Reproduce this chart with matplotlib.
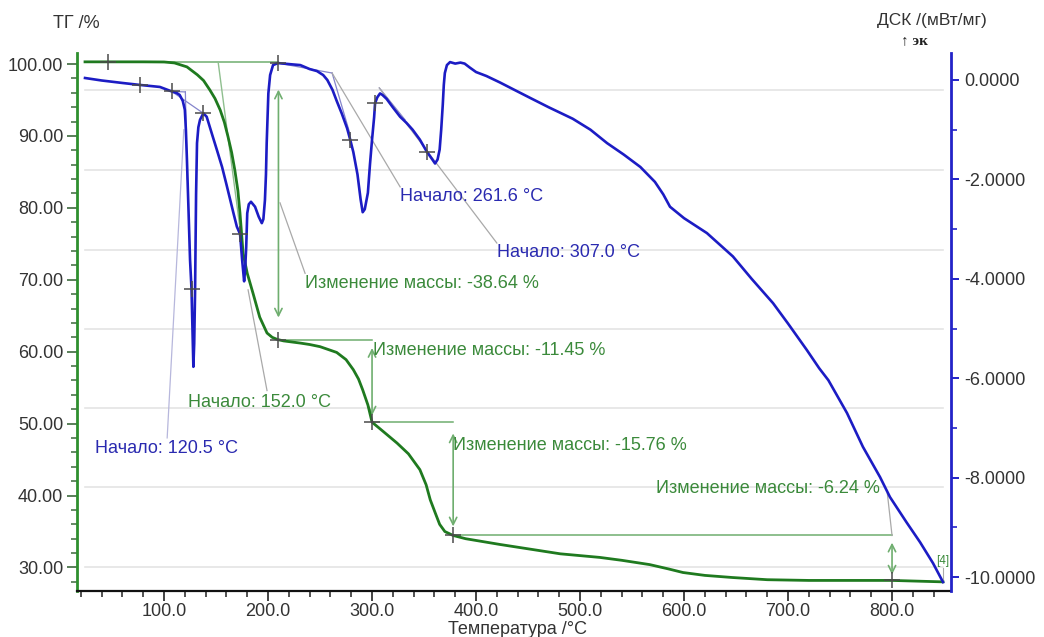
import matplotlib
matplotlib.use("Agg")
import matplotlib.pyplot as plt
from matplotlib.ticker import MultipleLocator, FormatStrFormatter

plt.rcParams['font.family'] = ['Liberation Sans', 'DejaVu Sans']

# ---- TG curve: temperature (°C) and residual mass (%) ----
tg_temp = [24, 46, 80, 100, 110, 122, 132, 138, 144, 149, 154, 158, 161.5, 165,
           168, 171, 173, 176, 180, 185.6, 192, 199, 204, 209, 215, 231, 240,
           250, 258, 266, 275, 282, 287, 291, 296, 300, 310, 324, 335, 346, 352,
           356, 361, 365, 370, 378, 390, 423, 481, 519, 540, 567, 585, 599, 620,
           647, 680, 720, 760, 800, 849]
tg_mass = [100.3, 100.3, 100.3, 100.28, 100.15, 99.6, 98.5, 97.7, 96.4, 95.2,
           93.6, 91.9, 89.9, 87.7, 85.3, 82.4, 79.3, 73.7, 70.9, 68.1, 64.8,
           62.6, 62.0, 61.7, 61.5, 61.2, 61.0, 60.7, 60.3, 59.9, 58.9, 57.5,
           56.2, 54.7, 52.6, 50.2, 49.0, 47.3, 45.8, 43.6, 41.5, 39.4, 37.5,
           36.0, 35.0, 34.45, 34.0, 33.2, 31.9, 31.4, 31.0, 30.4, 29.8, 29.3,
           28.9, 28.6, 28.3, 28.2, 28.2, 28.2, 28.0]

# ---- DSC curve: temperature (°C) and heat flow (mW/mg), exo up ----
dsc_temp = [24, 40, 60, 77, 96, 107.4, 112, 115, 118, 120, 121, 122, 123.5, 125,
            126.4, 128.2, 129, 129.8, 130.8, 131.7, 133, 134.6, 137.8, 141, 147,
            151, 155.8, 160, 163.5, 167, 170, 173.1, 175, 177, 178, 179, 180,
            181.5, 183.6, 187.5, 191, 194, 195.5, 197, 198, 198.7, 200.3, 202,
            204.8, 209.6, 220, 231, 240, 247, 253, 257, 262, 266, 271, 276, 279,
            282, 286, 289, 291, 293, 296, 298, 300, 302, 302.9, 305, 307.7, 310,
            314, 320, 327, 333, 339, 346, 352.6, 358, 360.6, 363, 365, 366.5,
            368, 369, 370, 372, 375, 380, 385, 389, 394, 400, 410, 423, 437, 452,
            470, 493, 510, 526, 542, 558, 572, 580, 586.5, 600, 622, 647, 665,
            685.6, 700, 718, 730, 738.8, 756.7, 772, 788.5, 798, 814, 827, 839.4,
            849]
dsc_signal = [0.04, -0.01, -0.06, -0.10, -0.14, -0.23, -0.26, -0.30, -0.42,
              -0.60, -1.00, -1.60, -2.60, -3.62, -4.20, -5.77, -5.30, -4.30,
              -2.30, -1.27, -0.95, -0.80, -0.67, -0.74, -1.15, -1.42, -1.75,
              -2.10, -2.40, -2.70, -2.95, -3.10, -3.60, -4.05, -3.80, -3.36,
              -2.68, -2.50, -2.45, -2.55, -2.75, -2.88, -2.80, -2.42, -1.90,
              -1.27, -0.27, 0.10, 0.30, 0.34, 0.32, 0.30, 0.22, 0.18, 0.10, 0.00,
              -0.20, -0.42, -0.68, -0.97, -1.20, -1.45, -1.90, -2.40, -2.66,
              -2.60, -2.27, -1.70, -1.20, -0.75, -0.47, -0.35, -0.27, -0.30,
              -0.38, -0.55, -0.74, -0.86, -1.00, -1.20, -1.44, -1.60, -1.68,
              -1.60, -1.40, -1.00, -0.50, -0.10, 0.14, 0.30, 0.36, 0.33, 0.35,
              0.33, 0.25, 0.16, 0.08, -0.05, -0.20, -0.36, -0.55, -0.78, -1.00,
              -1.27, -1.50, -1.75, -2.05, -2.30, -2.55, -2.78, -3.08, -3.55,
              -4.00, -4.49, -4.90, -5.43, -5.80, -6.04, -6.70, -7.38, -7.99,
              -8.39, -8.90, -9.30, -9.72, -10.10]

# ---- mass-loss steps ----
step_temp = [46, 210, 300, 378, 800]
step_start_mass = 100.30
step_change = [-38.64, -11.45, -15.76, -6.24]

# ---- onset evaluations ----
tg_onset = 152.0
dsc_onsets = [120.5, 261.6, 307.0]

# ---- DSC evaluation markers ----
dsc_mark_temp = [76.9, 107.4, 126.4, 137.8, 173.1, 209.6, 279, 302.9, 352.6]
dsc_mark_val = [-0.10, -0.23, -4.20, -0.67, -3.10, 0.34, -1.20, -0.47, -1.44]

# horizontal guide levels (TG scale)
guide_levels = [96.4, 85.3, 74.15, 63.15, 52.2, 41.2, 30.1]

TG_COLOR = '#1f7a1f'
DSC_COLOR = '#1c1cc4'
G_LINE = '#6fae6f'
G_TEXT = '#3b8a3b'
B_TEXT = '#2a2ab0'
B_LINE = '#8585cc'
GRAY = '#a9a9a9'
MARK = '#4a4a4a'
FS = 13

fig = plt.figure(figsize=(10.44, 6.37), dpi=100)
ax = fig.add_axes([77 / 1044, 46 / 637, 874 / 1044, 538 / 637])
ax2 = ax.twinx()

ax.set_xlim(16.3, 856.7)
ax.set_ylim(26.73, 101.53)
ax2.set_ylim(-10.28, 0.543)

# guide lines
for g in guide_levels:
    ax.plot([tg_temp[0], tg_temp[-1]], [g, g], color='#e4e4e4', lw=1.2, zorder=0)

# mass-loss step construction
levels = [step_start_mass]
for c in step_change:
    levels.append(round(levels[-1] + c, 2))

for i, c in enumerate(step_change):
    t0, t1 = step_temp[i], step_temp[i + 1]
    lv0, lv1 = levels[i], levels[i + 1]
    ax.plot([t0, t1], [lv0, lv0], color=G_LINE, lw=1.1, zorder=1)
    pad = max(1.0, 0.1 * abs(c))
    ax.annotate('', xy=(t1, lv1 + pad * 0.8), xytext=(t1, lv0 - pad),
                arrowprops=dict(arrowstyle='<->', color=G_LINE, lw=1.2,
                                shrinkA=0, shrinkB=0, mutation_scale=13),
                zorder=1)

for t, lv in zip(step_temp, levels):
    ax.plot([t], [lv], marker='+', ms=11, mew=1.1, color=MARK, zorder=4)

# TG onset tangent and leader
ax.plot([tg_onset, 173.0], [levels[0], 77.2], color='#8fbf8f', lw=1.0, zorder=1)
ax.plot([180.8, 199.0], [68.6, 54.6], color=GRAY, lw=0.9, zorder=1)
ax.text(123.0, 52.9, f'Начало: {tg_onset:.1f} °C', color=G_TEXT, fontsize=FS,
        va='center', ha='left')

# mass change labels
ax.plot([211.5, 235.6], [80.7, 70.9], color=GRAY, lw=0.9, zorder=1)
ax.text(235.6, 69.55, f'Изменение массы: {step_change[0]:.2f} %', color=G_TEXT,
        fontsize=FS, va='center', ha='left')
ax.text(301.0, 60.2, f'Изменение массы: {step_change[1]:.2f} %', color=G_TEXT,
        fontsize=FS, va='center', ha='left')
ax.text(378.0, 46.9, f'Изменение массы: {step_change[2]:.2f} %', color=G_TEXT,
        fontsize=FS, va='center', ha='left')
ax.plot([step_temp[4], 795.5], [levels[3], 40.3], color=GRAY, lw=0.9, zorder=1)
ax.text(573.0, 41.05, f'Изменение массы: {step_change[3]:.2f} %', color=G_TEXT,
        fontsize=FS, va='center', ha='left')

# TG curve
ax.plot(tg_temp, tg_mass, color=TG_COLOR, lw=2.0, zorder=3)
ax.plot([849, 849], [28.4, 29.9], color=GRAY, lw=0.8, zorder=1)
ax.text(849, 30.9, '[4]', color=G_TEXT, fontsize=8.5, ha='center', va='center')

# DSC evaluation construction lines
ax2.plot([107.4, dsc_onsets[0]], [-0.23, -0.24], color=B_LINE, lw=0.9, zorder=1)
ax2.plot([dsc_onsets[0], 122.3], [-0.24, -2.0], color=B_LINE, lw=0.9, zorder=1)
ax2.plot([107.4, 137.8], [-0.23, -0.67], color=B_LINE, lw=0.9, zorder=1)
ax2.plot([119.0, 103.0], [-1.0, -7.2], color='#b7b7dc', lw=0.9, zorder=1)
ax2.text(33.7, -7.42, f'Начало: {dsc_onsets[0]:.1f} °C', color=B_TEXT,
         fontsize=FS, va='center', ha='left')

ax2.plot([209.6, dsc_onsets[1]], [0.34, 0.14], color=B_LINE, lw=0.9, zorder=1)
ax2.plot([dsc_onsets[1], 279.0], [0.14, -1.1], color=B_LINE, lw=0.9, zorder=1)
ax2.plot([dsc_onsets[1], 327.0], [0.14, -2.15], color=GRAY, lw=0.9, zorder=1)
ax2.text(327.0, -2.35, f'Начало: {dsc_onsets[1]:.1f} °C', color=B_TEXT,
         fontsize=FS, va='center', ha='left')

ax2.plot([dsc_onsets[2], 331.7], [-0.16, -0.80], color=B_LINE, lw=0.9, zorder=1)
ax2.plot([dsc_onsets[2], 420.0], [-0.16, -3.28], color=GRAY, lw=0.9, zorder=1)
ax2.text(420.0, -3.48, f'Начало: {dsc_onsets[2]:.1f} °C', color=B_TEXT,
         fontsize=FS, va='center', ha='left')

# DSC curve
ax2.plot(dsc_temp, dsc_signal, color=DSC_COLOR, lw=1.9, zorder=3)
ax2.plot(dsc_mark_temp, dsc_mark_val, ls='none', marker='+', ms=11, mew=1.1,
         color=MARK, zorder=4)

# axes styling
for s in ('top', 'right'):
    ax.spines[s].set_visible(False)
for s in ('top', 'left', 'bottom'):
    ax2.spines[s].set_visible(False)
ax.spines['left'].set_color('#2e8f2e')
ax.spines['left'].set_linewidth(2.0)
ax.spines['bottom'].set_color('#111111')
ax.spines['bottom'].set_linewidth(1.6)
ax2.spines['right'].set_color('#2323c8')
ax2.spines['right'].set_linewidth(2.0)

ax.xaxis.set_minor_locator(MultipleLocator(20))
ax.xaxis.set_major_formatter(FormatStrFormatter('%.1f'))
ax.set_xticks(list(range(100, 900, 100)))
ax.yaxis.set_minor_locator(MultipleLocator(2))
ax.yaxis.set_major_formatter(FormatStrFormatter('%.2f'))
ax.set_yticks(list(range(30, 101, 10)))
ax2.yaxis.set_minor_locator(MultipleLocator(1))
ax2.yaxis.set_major_formatter(FormatStrFormatter('%.4f'))
ax2.set_yticks(list(range(-10, 1, 2)))

ax.tick_params(axis='x', which='major', length=7, width=1.2, color='#222',
               labelcolor='#333', labelsize=13, pad=1.5)
ax.tick_params(axis='x', which='minor', length=4, width=1.1, color='#222')
ax.tick_params(axis='y', which='major', length=7, width=1.2, color='#3d6a3d',
               labelcolor='#333', labelsize=13, pad=3)
ax.tick_params(axis='y', which='minor', length=4, width=1.1, color='#3d6a3d')
ax2.tick_params(axis='y', which='major', length=6, width=1.4, color='#2323c8',
                labelcolor='#333', labelsize=13, pad=3.5)
ax2.tick_params(axis='y', which='minor', length=4, width=1.2, color='#2323c8')

ax.patch.set_facecolor('white')
ax2.patch.set_visible(False)

fig.text(53 / 1044, 1 - 23 / 637, 'ТГ /%', fontsize=FS, color='#333',
         ha='left', va='center')
fig.text(877 / 1044, 1 - 20 / 637, 'ДСК /(мВт/мг)', fontsize=12.5, color='#333',
         ha='left', va='center')
fig.text(901 / 1044, 1 - 41 / 637, '↑ эк', fontsize=11, color='#222',
         family=['Liberation Serif', 'DejaVu Serif'], weight='bold',
         ha='left', va='center')
fig.text(518 / 1044, 1 - 629 / 637, 'Температура /°C', fontsize=FS,
         color='#333', ha='center', va='center')

fig.savefig('out.png', dpi=100)
